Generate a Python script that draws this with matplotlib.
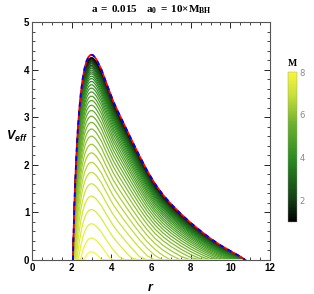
import numpy as np
import matplotlib
import matplotlib.pyplot as plt
from matplotlib.colors import LinearSegmentedColormap, Normalize
from matplotlib.ticker import MultipleLocator

# outer potential curve (red / blue dashed)
r_env = [2.06, 2.09, 2.12, 2.16, 2.20, 2.25, 2.31, 2.38, 2.46, 2.55, 2.65, 2.75, 2.85,
         2.95, 3.05, 3.15, 3.25, 3.35, 3.50, 3.70, 3.90, 4.10, 4.40, 4.70, 5.00, 5.40,
         5.80, 6.20, 6.60, 7.00, 7.50, 8.00, 8.50, 9.00, 9.50, 10.00, 10.30, 10.55, 10.75]
v_env = [0.00, 0.45, 0.95, 1.45, 1.85, 2.30, 2.75, 3.15, 3.50, 3.80, 4.03, 4.18, 4.27,
         4.31, 4.31, 4.27, 4.21, 4.13, 4.00, 3.77, 3.55, 3.33, 3.06, 2.80, 2.54, 2.20,
         1.88, 1.60, 1.37, 1.18, 0.97, 0.78, 0.61, 0.45, 0.31, 0.19, 0.12, 0.06, 0.00]

# peak height of each curve of the family, from M = 1 (black) to M = 8 (yellow)
peaks = [4.25, 4.235, 4.22, 4.20, 4.18, 4.16, 4.14, 4.12, 4.09, 4.06, 4.03, 3.99, 3.95,
         3.91, 3.86, 3.81, 3.75, 3.68, 3.61, 3.53, 3.44, 3.35, 3.25, 3.14, 3.02, 2.89,
         2.75, 2.60, 2.43, 2.25, 2.05, 1.84, 1.60, 1.34, 1.06, 0.76, 0.46, 0.17]
M_vals = np.linspace(1, 8, len(peaks))

plt.rcParams['mathtext.fontset'] = 'custom'
plt.rcParams['mathtext.rm'] = 'Liberation Serif:bold'
plt.rcParams['mathtext.bf'] = 'Liberation Serif:bold'
plt.rcParams['mathtext.it'] = 'Liberation Sans:italic:bold'

# black -> green -> yellow, like mathematica's avocado colours
avocado = LinearSegmentedColormap.from_list(
    'avocado', [(0.0, '#000000'), (0.15, '#143f14'), (0.42, '#2c8a22'),
                (0.65, '#6cb02c'), (0.85, '#c8e03a'), (1.0, '#f7f53a')])
norm = Normalize(1, 8)

fig = plt.figure(figsize=(3.14, 2.94), dpi=100)
ax = fig.add_axes([0.102, 0.1156, 0.758, 0.8094])

r = np.array(r_env)
env = np.array(v_env)
top = env.max()
for m, pk in zip(M_vals, peaks):
    v = env - (top - pk) * np.sqrt(env / top)
    ax.plot(r, np.clip(v, 0, None), color=avocado(norm(m)), lw=0.9, zorder=2)

ax.plot(r, env, color='red', lw=1.3, zorder=3)
ax.plot(r, env, color='blue', lw=1.3, ls=(0, (2.5, 2.5)), zorder=4)

ax.set_xlim(0, 12)
ax.set_ylim(0, 5)
ax.xaxis.set_major_locator(MultipleLocator(2))
ax.xaxis.set_minor_locator(MultipleLocator(0.5))
ax.yaxis.set_major_locator(MultipleLocator(1))
ax.yaxis.set_minor_locator(MultipleLocator(0.2))
ax.tick_params(which='both', direction='in', top=True, right=True, labelsize=7, pad=2)
ax.tick_params(which='major', length=4, width=0.6)
ax.tick_params(which='minor', length=2, width=0.5)
for lab in ax.get_xticklabels() + ax.get_yticklabels():
    lab.set_fontweight('bold')
    lab.set_family('Liberation Sans')
for s in ax.spines.values():
    s.set_color('#555555')
    s.set_linewidth(0.8)

ax.set_title(r'$\mathrm{a\:=\:0.015\ \ \ a_0\:=\:10{\times}M_{BH}}$', fontsize=8, pad=7)
ax.set_xlabel(r'$r$', fontsize=9, labelpad=6)
ax.text(-0.063, 0.52, r'$V_{eff}$', transform=ax.transAxes, fontsize=9,
        ha='center', va='center')

cax = fig.add_axes([0.917, 0.245, 0.029, 0.51])
cb = fig.colorbar(matplotlib.cm.ScalarMappable(norm=norm, cmap=avocado), cax=cax)
cb.set_ticks([2, 4, 6, 8])
cb.ax.tick_params(labelsize=6, colors='#888888', length=0, pad=2)
cb.outline.set_linewidth(0.3)
cb.outline.set_edgecolor('#999999')
cax.set_title(r'$\mathrm{M}$', fontsize=7, pad=4)

fig.savefig('out.png', dpi=100)
